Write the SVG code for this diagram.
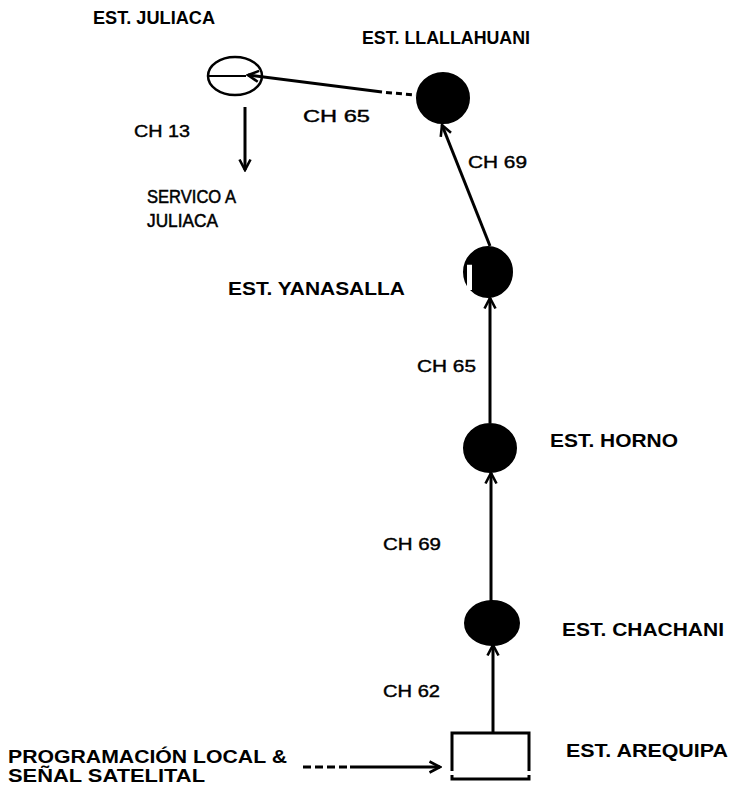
<svg xmlns="http://www.w3.org/2000/svg" width="732" height="787" viewBox="0 0 732 787">
<style>
.lbl{font-family:"Liberation Sans",Arial,sans-serif;font-weight:bold;font-size:18px;fill:#000}
.ch{font-family:"Liberation Sans",Arial,sans-serif;font-size:17px;fill:#000;stroke:#000;stroke-width:0.4}
.svc{font-family:"Liberation Sans",Arial,sans-serif;font-size:18px;fill:#000;stroke:#000;stroke-width:0.5}
.node{fill:#000;stroke:#000;stroke-width:2}
.con{stroke:#000;stroke-width:3;fill:none}
</style>
<defs>
<marker id="arr" viewBox="0 0 14 14" markerWidth="14" markerHeight="14" refX="12" refY="7" orient="auto" markerUnits="userSpaceOnUse">
<path d="M1.5,1.5 L12,7 L1.5,12.5" fill="none" stroke="#000" stroke-width="2.6"/>
</marker>
</defs>
<rect width="732" height="787" fill="#fff"/>

<g id="juliaca">
<ellipse cx="235" cy="76" rx="27" ry="19" fill="#fff" stroke="#000" stroke-width="2.5"/>
<line x1="208" y1="76" x2="246" y2="76" stroke="#000" stroke-width="2"/>
<text class="lbl" x="93" y="24" textLength="122" lengthAdjust="spacingAndGlyphs">EST. JULIACA</text>
<text class="ch" x="134" y="137" textLength="56" lengthAdjust="spacingAndGlyphs">CH 13</text>
<text class="svc" x="147" y="203" textLength="89" lengthAdjust="spacingAndGlyphs">SERVICO A</text>
<text class="svc" x="147" y="227" textLength="71" lengthAdjust="spacingAndGlyphs">JULIACA</text>
</g>

<g id="llallahuani">
<ellipse class="node" cx="443" cy="98" rx="26" ry="25"/>
<text class="lbl" x="362" y="44" textLength="168" lengthAdjust="spacingAndGlyphs">EST. LLALLAHUANI</text>
<text class="ch" x="303" y="122" textLength="67" lengthAdjust="spacingAndGlyphs">CH 65</text>
<text class="ch" x="468" y="168" textLength="59" lengthAdjust="spacingAndGlyphs">CH 69</text>
</g>

<g id="yanasalla">
<ellipse class="node" cx="488" cy="272" rx="24" ry="25"/>
<rect x="467" y="264" width="5" height="26" fill="#fff"/>
<line x1="473" y1="263" x2="473" y2="291" stroke="#000" stroke-width="2"/>
<line x1="467" y1="264" x2="473" y2="264" stroke="#000" stroke-width="1.5"/>
<text class="lbl" x="228" y="295" textLength="177" lengthAdjust="spacingAndGlyphs">EST. YANASALLA</text>
<text class="ch" x="417" y="372" textLength="59" lengthAdjust="spacingAndGlyphs">CH 65</text>
</g>

<g id="horno">
<ellipse class="node" cx="490" cy="448" rx="26" ry="24"/>
<text class="lbl" x="550" y="447" textLength="128" lengthAdjust="spacingAndGlyphs">EST. HORNO</text>
<text class="ch" x="383" y="550" textLength="58" lengthAdjust="spacingAndGlyphs">CH 69</text>
</g>

<g id="chachani">
<ellipse class="node" cx="492" cy="623" rx="27" ry="22"/>
<text class="lbl" x="562" y="636" textLength="162" lengthAdjust="spacingAndGlyphs">EST. CHACHANI</text>
<text class="ch" x="383" y="697" textLength="57" lengthAdjust="spacingAndGlyphs">CH 62</text>
</g>

<g id="arequipa">
<path d="M452,771 L452,733 L529,733 L529,771" fill="none" stroke="#000" stroke-width="3"/>
<path d="M452,775 L452,779 L529,779 L529,775" fill="none" stroke="#000" stroke-width="3"/>
<text class="lbl" x="566" y="757" textLength="162" lengthAdjust="spacingAndGlyphs">EST. AREQUIPA</text>
</g>

<g id="input">
<text class="lbl" x="8" y="763" textLength="279" lengthAdjust="spacingAndGlyphs">PROGRAMACIÓN LOCAL &amp;</text>
<text class="lbl" x="8" y="782" textLength="197" lengthAdjust="spacingAndGlyphs">SEÑAL SATELITAL</text>
</g>

<g id="connectors">
<line class="con" x1="382" y1="92" x2="248" y2="75" marker-end="url(#arr)"/>
<line x1="386" y1="92.5" x2="416" y2="95" stroke="#000" stroke-width="3" stroke-dasharray="6,4"/>
<line class="con" x1="245" y1="107" x2="245" y2="170" stroke-width="2.5" marker-end="url(#arr)"/>
<line class="con" x1="490" y1="246" x2="442" y2="125" marker-end="url(#arr)"/>
<line class="con" x1="490" y1="423" x2="490" y2="298" marker-end="url(#arr)"/>
<line class="con" x1="491" y1="603" x2="491" y2="473" marker-end="url(#arr)"/>
<line class="con" x1="493" y1="732" x2="493" y2="645" marker-end="url(#arr)"/>
<line x1="303" y1="767" x2="350" y2="767" stroke="#000" stroke-width="3" stroke-dasharray="8,4"/>
<line class="con" x1="350" y1="767" x2="440" y2="767" marker-end="url(#arr)"/>
</g>
</svg>
